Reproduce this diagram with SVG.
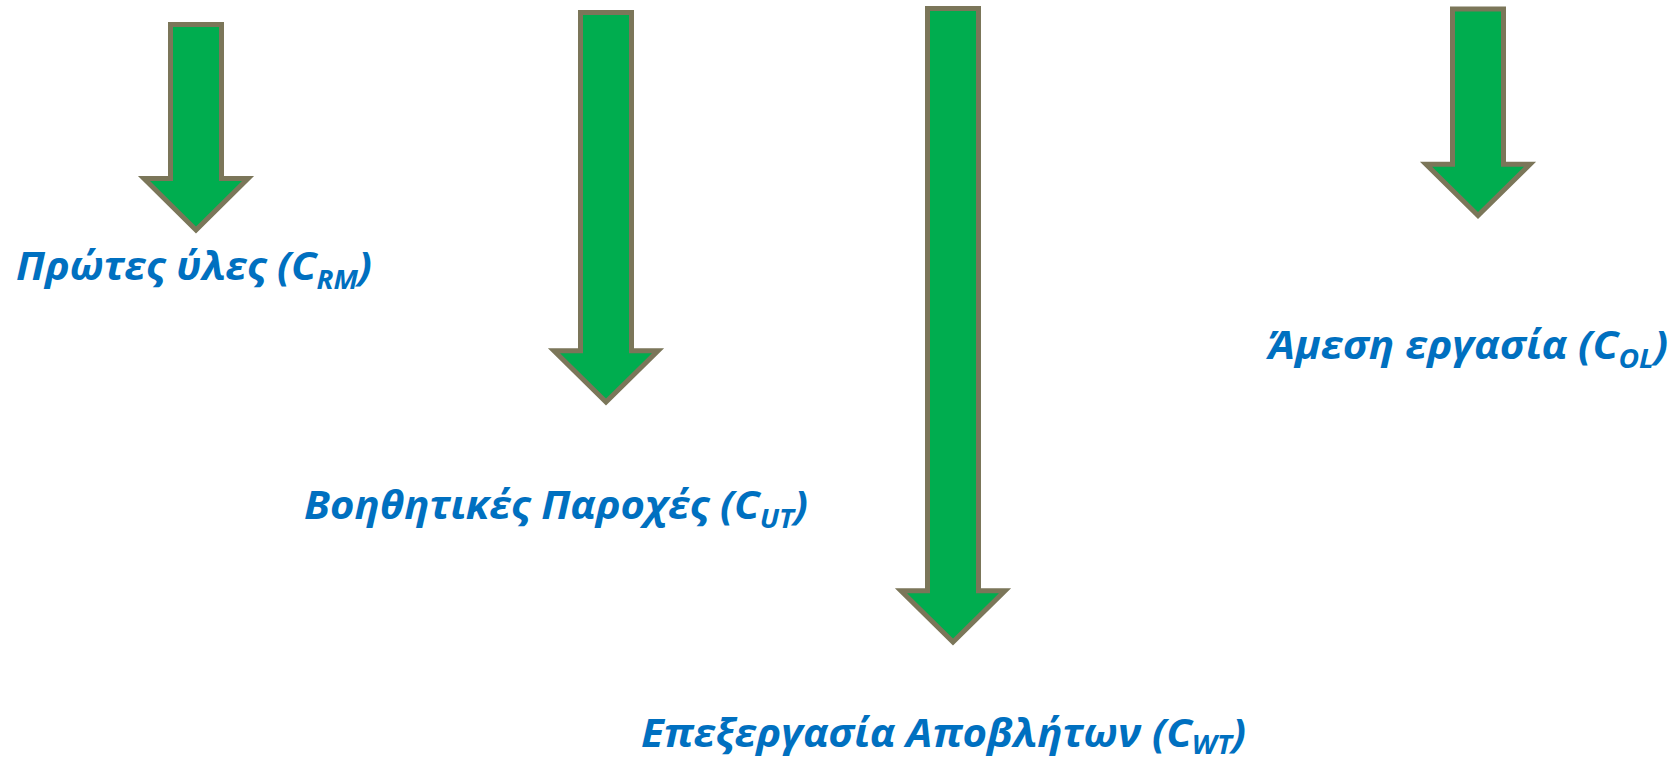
<svg xmlns="http://www.w3.org/2000/svg" width="1678" height="762" viewBox="0 0 1678 762">
<style>
.arrow{fill:#00AD4F;stroke:#7B7659;stroke-width:5;stroke-linejoin:miter;stroke-miterlimit:10}
.lbl{font-family:"Open Sans","Noto Sans","Liberation Sans",sans-serif;font-weight:bold;font-style:italic;font-size:39px;fill:#0070C0}
.sub{font-size:26px}
</style>
<rect width="1678" height="762" fill="#ffffff"/>
<g id="connectors">
<path id="arrow-rm" class="arrow" d="M170.5,24.5 H221.5 V178.5 H248 L196,230 L144,178.5 H170.5 Z"/>
<path id="arrow-ut" class="arrow" d="M580.5,12.5 H631.5 V350.8 H658 L606,402 L554,350.8 H580.5 Z"/>
<path id="arrow-wt" class="arrow" d="M927.5,8.5 H978.5 V590.8 H1005 L953,642 L901,590.8 H927.5 Z"/>
<path id="arrow-ol" class="arrow" d="M1452.5,9 H1503.5 V164.2 H1530 L1478,215.5 L1426,164.2 H1452.5 Z"/>
</g>
<g id="node-rm">
<text class="lbl" x="16" y="280" textLength="356" lengthAdjust="spacingAndGlyphs">Πρώτες ύλες (C<tspan class="sub" dy="9">RM</tspan><tspan dy="-9">)</tspan></text>
</g>
<g id="node-ut">
<text class="lbl" x="304" y="519" textLength="504" lengthAdjust="spacingAndGlyphs">Βοηθητικές Παροχές (C<tspan class="sub" dy="9">UT</tspan><tspan dy="-9">)</tspan></text>
</g>
<g id="node-ol">
<text class="lbl" x="1268" y="359" textLength="400" lengthAdjust="spacingAndGlyphs">Άμεση εργασία (C<tspan class="sub" dy="9">OL</tspan><tspan dy="-9">)</tspan></text>
</g>
<g id="node-wt">
<text class="lbl" x="641" y="747" textLength="605" lengthAdjust="spacingAndGlyphs">Επεξεργασία Αποβλήτων (C<tspan class="sub" dy="7">WT</tspan><tspan dy="-7">)</tspan></text>
</g>
</svg>
